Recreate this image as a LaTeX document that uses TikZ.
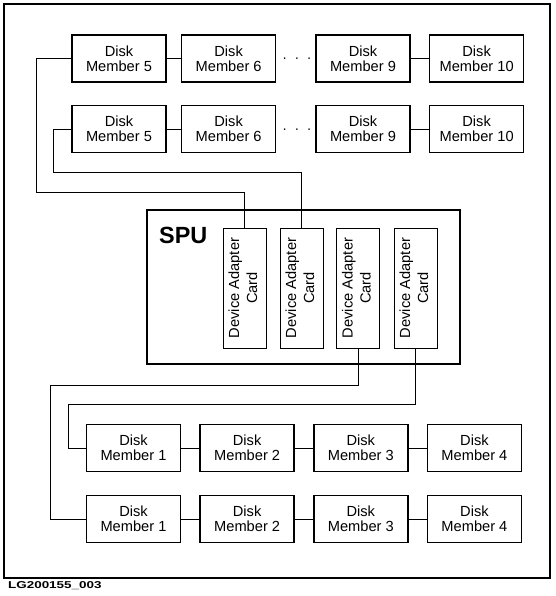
\documentclass[tikz,border=0pt]{standalone}
\usepackage{graphicx}
\usepackage{fontspec}
\setmainfont{Liberation Sans}
\usetikzlibrary{positioning}

\begin{document}
\begin{tikzpicture}[x=0.03cm, y=-0.03cm,
    every node/.style={font=\fontsize{12}{15}\selectfont},
    disk/.style={draw, line width=1.4pt, minimum width=2.82cm, minimum height=1.41cm, align=center, inner sep=0pt, font=\fontsize{12.5}{13}\selectfont},
    card/.style={draw, line width=0.7pt, minimum width=1.29cm, minimum height=3.6cm, inner sep=0pt, font=\fontsize{12.5}{15.3}\selectfont},
    spubox/.style={draw, line width=1.4pt, minimum width=9.39cm, minimum height=4.62cm},
    wire/.style={line width=0.7pt},
    node distance=0.54cm]

\useasboundingbox (0,0) rectangle (555,596);
\draw[line width=1.6pt] (4,4) rectangle (550,578);

% upper disk chains
\node[disk] (m5a) at (119,58.5) {Disk\\Member 5};
\node[disk, right=0.42cm of m5a] (m6a) {Disk\\Member 6};
\node[disk] (m9a) at (363,58.5) {Disk\\Member 9};
\node[disk, right=of m9a] (m10a) {Disk\\Member 10};
\node (dotsa) at (297,60) {\textperiodcentered\hspace{6.5pt}\textperiodcentered\hspace{6.5pt}\textperiodcentered};

\node[disk] (m5b) at (119,129) {Disk\\Member 5};
\node[disk, right=0.42cm of m5b] (m6b) {Disk\\Member 6};
\node[disk] (m9b) at (363,129) {Disk\\Member 9};
\node[disk, right=of m9b] (m10b) {Disk\\Member 10};
\node (dotsb) at (297,131) {\textperiodcentered\hspace{6.5pt}\textperiodcentered\hspace{6.5pt}\textperiodcentered};

% SPU with its cards
\node[spubox] (spu) at (303.5,287) {};
\node[anchor=base west, font=\bfseries\fontsize{20}{24}\selectfont] (spulabel) at (155,243) {SPU};
\node[card] (card1) at (244.5,288) {\rotatebox{90}{\begin{tabular}{@{}c@{}}Device Adapter\\Card\end{tabular}}};
\node[card] (card2) at (301.5,288) {\rotatebox{90}{\begin{tabular}{@{}c@{}}Device Adapter\\Card\end{tabular}}};
\node[card] (card3) at (358,288) {\rotatebox{90}{\begin{tabular}{@{}c@{}}Device Adapter\\Card\end{tabular}}};
\node[card] (card4) at (415.5,288) {\rotatebox{90}{\begin{tabular}{@{}c@{}}Device Adapter\\Card\end{tabular}}};

% lower disk chains
\node[disk] (m1a) at (133.5,448) {Disk\\Member 1};
\node[disk, right=of m1a] (m2a) {Disk\\Member 2};
\node[disk, right=of m2a] (m3a) {Disk\\Member 3};
\node[disk, right=of m3a] (m4a) {Disk\\Member 4};

\node[disk] (m1b) at (133.5,519) {Disk\\Member 1};
\node[disk, right=of m1b] (m2b) {Disk\\Member 2};
\node[disk, right=of m2b] (m3b) {Disk\\Member 3};
\node[disk, right=of m3b] (m4b) {Disk\\Member 4};

\node[anchor=base west, font=\bfseries\fontsize{8.5}{10}\selectfont] (figid) at (4,588) {\scalebox{1.35}[1]{LG200155\_003}};

% links inside the chains
\draw[wire] (m5a) -- (m6a);
\draw[wire] (m9a) -- (m10a);
\draw[wire] (m5b) -- (m6b);
\draw[wire] (m9b) -- (m10b);
\draw[wire] (m1a) -- (m2a);
\draw[wire] (m2a) -- (m3a);
\draw[wire] (m3a) -- (m4a);
\draw[wire] (m1b) -- (m2b);
\draw[wire] (m2b) -- (m3b);
\draw[wire] (m3b) -- (m4b);

% cables to the cards
\coordinate (bend1) at (36,192);
\coordinate (bend2) at (53,172);
\coordinate (bend3) at (50,385);
\coordinate (bend4) at (68,404);
\draw[wire] (m5a.west) -| (bend1) -| (card1.north);
\draw[wire] (m5b.west) -| (bend2) -| (card2.north);
\draw[wire] (card3.south) |- (bend3) |- (m1b.west);
\draw[wire] (card4.south) |- (bend4) |- (m1a.west);
\end{tikzpicture}
\end{document}
